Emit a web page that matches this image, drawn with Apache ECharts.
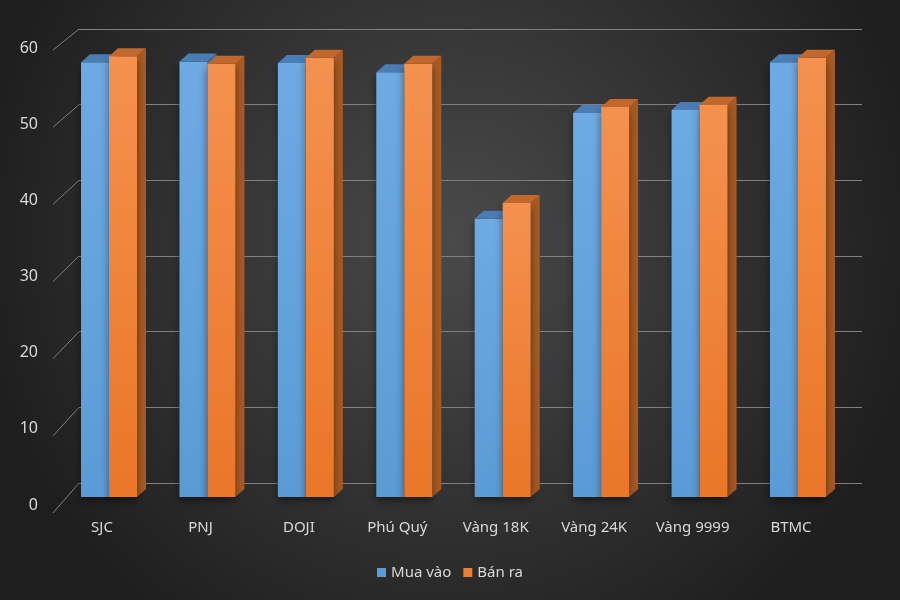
<!DOCTYPE html>
<html>
<head>
<meta charset="utf-8">
<script src="https://cdn.jsdelivr.net/npm/echarts@6/dist/echarts.min.js"></script>
<style>
  html, body { margin: 0; padding: 0; background: #2a2a2a; }
  #chart { width: 900px; height: 600px; }
</style>
</head>
<body>
<div id="chart"></div>
<script>
'use strict';

var categories = ['SJC', 'PNJ', 'DOJI', 'Phú Quý', 'Vàng 18K', 'Vàng 24K', 'Vàng 9999', 'BTMC'];
var muaVao = [57.5, 57.6, 57.4, 56.2, 36.8, 50.8, 51.2, 57.5];
var banRa = [58.3, 57.3, 58.1, 57.3, 38.9, 51.6, 51.9, 58.1];
var yTicks = [0, 10, 20, 30, 40, 50, 60];

var BAR_W = 28;
var DX = 9, DY = 8;
var TXT = '#d9d9d9';
var FONT = 'Noto Sans';

// draw one 3D column: front face, top face, right side
function column(left, front, top, side) {
  return function (params, api) {
    var i = api.value(0);
    var v = api.value(1);
    var pt = api.coord([i, v]);
    var base = api.coord([i, 0]);
    var x0 = pt[0] + left;
    var x1 = x0 + BAR_W;
    var y0 = pt[1];
    var y1 = base[1];
    return {
      type: 'group',
      children: [
        {
          type: 'polygon',
          shape: { points: [[x1, y0], [x1 + DX, y0 - DY], [x1 + DX, y1 - DY], [x1, y1]] },
          style: { fill: side }
        },
        {
          type: 'rect',
          shape: { x: x0, y: y0, width: BAR_W, height: y1 - y0 },
          style: { fill: front, shadowBlur: 8, shadowColor: 'rgba(0,0,0,0.45)', shadowOffsetY: 4 }
        },
        {
          type: 'polygon',
          shape: { points: [[x0, y0], [x0 + DX, y0 - DY], [x1 + DX, y0 - DY], [x1, y0]] },
          style: { fill: top }
        }
      ]
    };
  };
}

function grad(c1, c2) {
  return new echarts.graphic.LinearGradient(0, 0, 0, 1, [
    { offset: 0, color: c1 }, { offset: 1, color: c2 }
  ]);
}

var chart = echarts.init(document.getElementById('chart'), null, { renderer: 'canvas' });

var option = {
  backgroundColor: {
    type: 'radial', x: 0.5, y: 0.4, r: 0.8,
    colorStops: [{ offset: 0, color: '#4a4a4a' }, { offset: 1, color: '#1e1e1e' }]
  },
  textStyle: { fontFamily: FONT },
  legend: {
    bottom: 15,
    icon: 'rect',
    itemWidth: 9,
    itemHeight: 9,
    itemGap: 12,
    textStyle: { color: TXT, fontSize: 15, fontFamily: FONT },
    data: ['Mua vào', 'Bán ra']
  },
  grid: [
    { left: 52.8, right: 59.8, top: 43.4, bottom: 103 },
    { left: 79, right: 38, top: 29, bottom: 117 },
    { left: 46, width: 1, top: 48, bottom: 95 }
  ],
  xAxis: [
    {
      type: 'category', gridIndex: 0, data: categories,
      axisLine: { show: false }, axisTick: { show: false },
      axisLabel: { color: TXT, fontSize: 15, margin: 23, fontFamily: FONT }
    },
    { type: 'value', gridIndex: 1, min: 0, max: 1, show: false },
    { type: 'value', gridIndex: 2, min: 0, max: 1, show: false }
  ],
  yAxis: [
    { type: 'value', gridIndex: 0, min: 0, max: 60, show: false },
    {
      type: 'value', gridIndex: 1, min: 0, max: 60, interval: 10,
      axisLine: { show: false }, axisTick: { show: false }, axisLabel: { show: false },
      splitLine: { lineStyle: { color: '#808080', width: 1 } }
    },
    {
      type: 'value', gridIndex: 2, min: 0, max: 60, interval: 10,
      axisLine: { show: false }, axisTick: { show: false }, splitLine: { show: false },
      axisLabel: { color: TXT, fontSize: 16, margin: 8, fontFamily: FONT }
    }
  ],
  series: [
    {
      // slanted tick lines joining the labels to the back wall
      type: 'custom', xAxisIndex: 1, yAxisIndex: 1, silent: true,
      data: yTicks.map(function (v) { return [0, v]; }),
      encode: { x: 0, y: 1 },
      renderItem: function (params, api) {
        var v = api.value(1);
        var p = api.coord([0, v]);
        return {
          type: 'line',
          shape: { x1: p[0] - 26, y1: p[1] + 30 - v * 0.15, x2: p[0], y2: p[1] },
          style: { stroke: '#808080', lineWidth: 1 }
        };
      }
    },
    {
      name: 'Mua vào', type: 'custom', xAxisIndex: 0, yAxisIndex: 0,
      itemStyle: { color: '#5b9bd5' },
      data: muaVao.map(function (v, i) { return [i, v]; }),
      encode: { x: 0, y: 1 },
      renderItem: column(-21, grad('#6eaae3', '#5b9bd5'), '#4a7db5', '#3f6f9f')
    },
    {
      name: 'Bán ra', type: 'custom', xAxisIndex: 0, yAxisIndex: 0,
      itemStyle: { color: '#ed7d31' },
      data: banRa.map(function (v, i) { return [i, v]; }),
      encode: { x: 0, y: 1 },
      renderItem: column(7, grad('#f4914f', '#ea7628'), '#c2682c', '#a85a22')
    }
  ]
};

chart.setOption(option);
</script>
</body>
</html>
